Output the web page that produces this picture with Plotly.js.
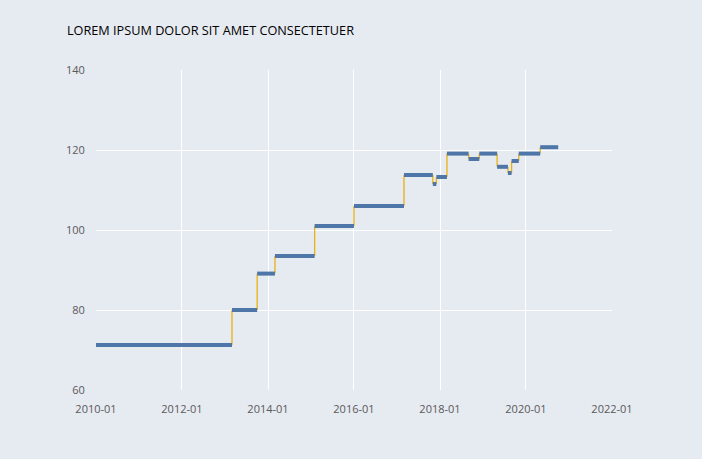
<!DOCTYPE html>
<html>
<head>
<meta charset="utf-8">
<script src="https://cdn.plot.ly/plotly-3.0.1.min.js"></script>
<style>html,body{margin:0;padding:0;background:#e6eaf1;}#chart{width:702px;height:459px;}</style>
</head>
<body>
<div id="chart"></div>
<script>
const segStart = ["2010-01-01","2013-03-01","2013-10-01","2014-03-01","2015-02-01","2016-01-01","2017-03-01","2017-11-01","2017-12-01","2018-03-01","2018-09-01","2018-12-01","2019-05-01","2019-08-01","2019-09-01","2019-11-01","2020-05-01"];
const segEnd = ["2013-03-01","2013-10-01","2014-03-01","2015-02-01","2016-01-01","2017-03-01","2017-11-01","2017-12-01","2018-03-01","2018-09-01","2018-12-01","2019-05-01","2019-08-01","2019-09-01","2019-11-01","2020-05-01","2020-10-01"];
const values = [71.25, 80, 89.1, 93.5, 101, 106, 113.75, 111.5, 113.25, 119.1, 117.75, 119.1, 115.8, 114.25, 117.25, 119.1, 120.7];
const xTickVals = ["2010-01-01","2012-01-01","2014-01-01","2016-01-01","2018-01-01","2020-01-01","2022-01-01"];
const xTickText = ["2010-01","2012-01","2014-01","2016-01","2018-01","2020-01","2022-01"];
const titleText = "LOREM IPSUM DOLOR SIT AMET CONSECTETUER";

const hx = [], hy = [];
for (let i = 0; i < values.length; i++) {
  hx.push(segStart[i], segEnd[i], null);
  hy.push(values[i], values[i], null);
}
const vx = [], vy = [];
for (let i = 1; i < values.length; i++) {
  vx.push(segStart[i], segStart[i], null);
  vy.push(values[i-1], values[i], null);
}

const traces = [
  {x: vx, y: vy, mode: 'lines', line: {color: '#e8b20f', width: 1.3}, hoverinfo: 'skip', showlegend: false},
  {x: hx, y: hy, mode: 'lines', line: {color: '#4e76a8', width: 4}, showlegend: false}
];

const layout = {
  width: 702, height: 459,
  paper_bgcolor: '#e6eaf1', plot_bgcolor: '#e6eaf1',
  margin: {l: 96, r: 90, t: 70, b: 69},
  font: {family: 'Open Sans, Liberation Sans, sans-serif', size: 11, color: '#595959'},
  title: {text: titleText, x: 67/702, xanchor: 'left', y: 1 - 31/459, yanchor: 'middle',
          font: {family: 'Open Sans, Liberation Sans, sans-serif', size: 12.7, color: '#000000'}},
  showlegend: false,
  xaxis: {type: 'date', range: ['2010-01-01', '2022-01-01'], tickvals: xTickVals, ticktext: xTickText,
          showgrid: true, gridcolor: '#ffffff', gridwidth: 1, zeroline: false, showline: false,
          ticks: 'outside', ticklen: 9, tickcolor: 'rgba(0,0,0,0)', tickfont: {size: 11, color: '#595959'}},
  yaxis: {range: [60, 140], dtick: 20, tick0: 60, showgrid: true, gridcolor: '#ffffff', gridwidth: 1,
          zeroline: false, showline: false, ticks: 'outside', ticklen: 8, tickcolor: 'rgba(0,0,0,0)',
          tickfont: {size: 11, color: '#595959'}}
};

Plotly.newPlot('chart', traces, layout, {displayModeBar: false, staticPlot: true});
</script>
</body>
</html>
